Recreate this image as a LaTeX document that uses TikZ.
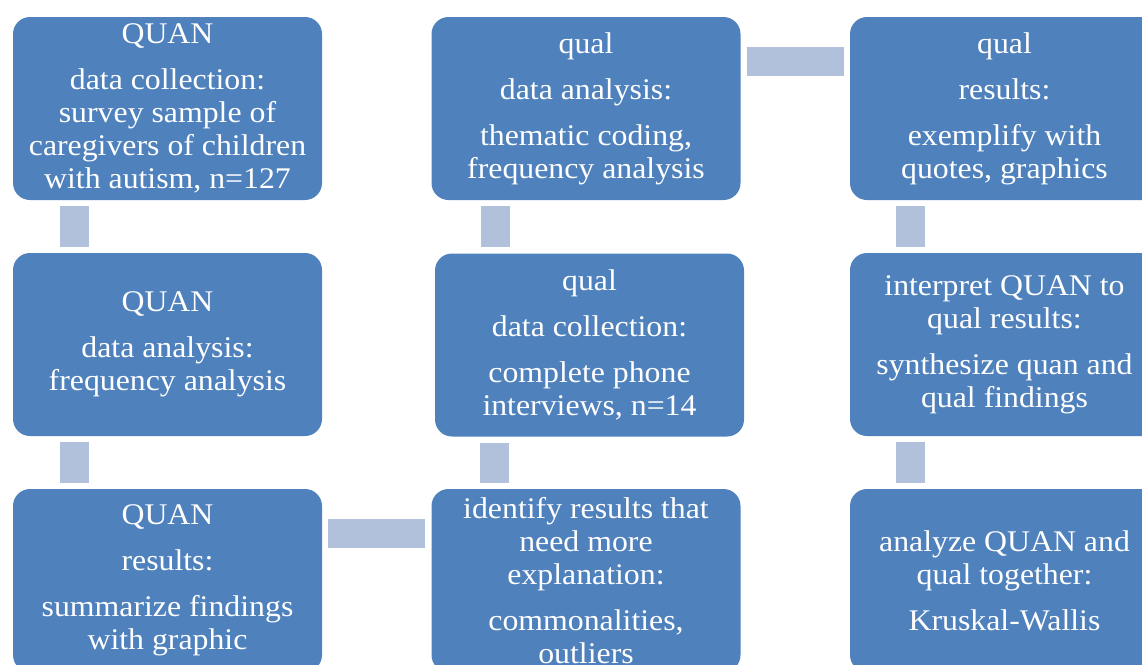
\documentclass[tikz,border=0pt]{standalone}
\usepackage{fontspec}
\setmainfont[FakeStretch=1.06]{Liberation Serif}
\definecolor{boxBlue}{RGB}{79,129,189}
\definecolor{barBlue}{RGB}{178,193,219}

\begin{document}
\begin{tikzpicture}[x=1pt,y=-1pt]
    		\tikzstyle{phaseBox}=[fill=boxBlue, text=white, rounded corners=17pt, minimum width=309pt, minimum height=183pt, inner sep=0pt, align=center, font=\fontsize{30}{33}\selectfont]
    		\tikzstyle{linkBar}=[draw=barBlue, line width=29pt, shorten <=6pt, shorten >=6pt]

    		\useasboundingbox (0,0) rectangle (1142,664);
    		\clip (0,0) rectangle (1142,664);

    		% QUAN strand
    		\node [phaseBox] (quanCollect) at (167.5,108.5) {QUAN\\[13pt] data collection:\\ survey sample of\\ caregivers of children\\ with autism, n=127};
    		\node [phaseBox] (quanAnalysis) at (167.5,344.5) {QUAN\\[13pt] data analysis:\\ frequency analysis};
    		\node [phaseBox] (quanResults) at (167.5,580.5) {QUAN\\[13pt] results:\\[13pt] summarize findings\\ with graphic};
    		% qual strand
    		\node [phaseBox] (qualIdentify) at (586,580.5) {identify results that\\ need more\\ explanation:\\[13pt] commonalities,\\ outliers};
    		\node [phaseBox] (qualCollect) at (589.5,345) {qual\\[13pt] data collection:\\[13pt] complete phone\\ interviews, n=14};
    		\node [phaseBox] (qualAnalysis) at (586,108.5) {qual\\[13pt] data analysis:\\[13pt] thematic coding,\\ frequency analysis};
    		\node [phaseBox] (qualResults) at (1004.5,108.5) {qual\\[13pt] results:\\[13pt] exemplify with\\ quotes, graphics};
    		% integration
    		\node [phaseBox] (interpret) at (1004.5,344.5) {interpret QUAN to\\ qual results:\\[13pt] synthesize quan and\\ qual findings};
    		\node [phaseBox] (analyze) at (1004.5,580.5) {analyze QUAN and\\ qual together:\\[13pt] Kruskal-Wallis};

    		% connecting bars
    		\draw [linkBar] ([xshift=61.5pt]quanCollect.south west) -- ([xshift=61.5pt]quanAnalysis.north west);
    		\draw [linkBar] ([xshift=61.5pt]quanAnalysis.south west) -- ([xshift=61.5pt]quanResults.north west);
    		\draw [linkBar] ([yshift=-44.5pt]quanResults.north east) -- ([yshift=-44.5pt]qualIdentify.north west);
    		\draw [linkBar] ([xshift=63pt]qualIdentify.north west) -- ([xshift=59.5pt]qualCollect.south west);
    		\draw [linkBar] ([xshift=60.5pt]qualCollect.north west) -- ([xshift=64pt]qualAnalysis.south west);
    		\draw [linkBar] ([yshift=-44.5pt]qualAnalysis.north east) -- ([yshift=-44.5pt]qualResults.north west);
    		\draw [linkBar] ([xshift=60.5pt]qualResults.south west) -- ([xshift=60.5pt]interpret.north west);
    		\draw [linkBar] ([xshift=60.5pt]interpret.south west) -- ([xshift=60.5pt]analyze.north west);

		\end{tikzpicture}
\end{document}
